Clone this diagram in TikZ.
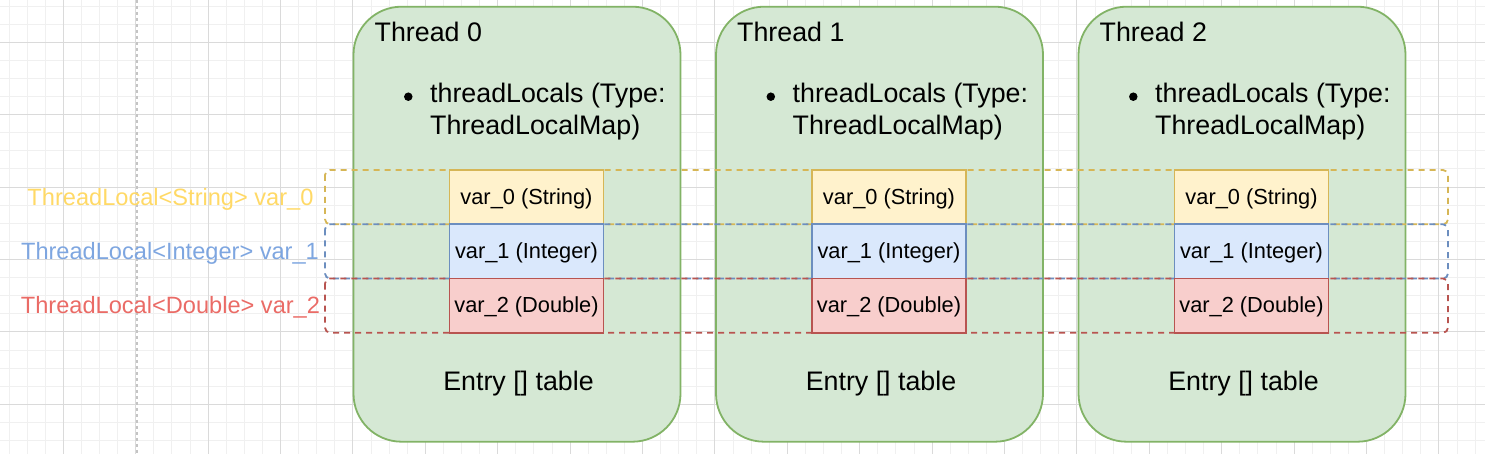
\documentclass[tikz,border=0pt]{standalone}
\usepackage{fontspec}
\setmainfont{Liberation Sans}
\RequirePackage{xcolor}
\definecolor{TLdarkgreen}{HTML}{82B366}
\definecolor{TLlightgreen}{HTML}{D5E8D4}
\definecolor{TLdarkyellow}{HTML}{D6B656}
\definecolor{TLlightyellow}{HTML}{FFF2CC}
\definecolor{TLtextyellow}{HTML}{FFD966}
\definecolor{TLdarkblue}{HTML}{6C8EBF}
\definecolor{TLlightblue}{HTML}{DAE8FC}
\definecolor{TLtextblue}{HTML}{7EA6E0}
\definecolor{TLdarkred}{HTML}{B85450}
\definecolor{TLlightred}{HTML}{F8CECC}
\definecolor{TLtextred}{HTML}{EA6B66}
\definecolor{TLgridmajor}{HTML}{DADADA}
\definecolor{TLgridminor}{HTML}{F0F0F0}
\definecolor{TLpageline}{HTML}{C4C4C4}

\begin{document}
\begin{tikzpicture}[x=1pt,y=-1pt,every node/.style={inner sep=0pt},
  threadbox/.style={draw=TLdarkgreen,fill=TLlightgreen,line width=1.8pt,rounded corners=48pt,minimum width=327pt,minimum height=435pt},
  bigtext/.style={font=\fontsize{26.8}{32}\selectfont,anchor=base west},
  listdot/.style={circle,fill,minimum size=8.5pt},
  varbox/.style={draw,line width=1.8pt,minimum width=154pt,minimum height=54.2pt,text height=17pt,text depth=3pt,font=\fontsize{21.8}{26}\selectfont},
  rowline/.style={dash pattern=on 6pt off 5pt,line width=1.8pt,rounded corners=5pt},
  rowlabel/.style={font=\fontsize{23.6}{28}\selectfont,anchor=base}]

\useasboundingbox (0,0) rectangle (1485,454);

% Grid
\begin{scope}
\clip (0,0) rectangle (1485,454);
\begin{scope}[shift={(-9.1,-30.1)}]
\draw[TLgridminor,line width=1pt] (0,500) grid [step=18.1pt] (1520,0);
\draw[TLgridmajor,line width=1pt] (0,500) grid [step=72.4pt] (1520,0);
\end{scope}
\end{scope}
\draw[TLpageline,line width=1.2pt,dash pattern=on 3pt off 3pt] (137,0) -- (137,454);

% Threads
\node[threadbox] (thread0) at (517,224.2) {};
\node[bigtext] (title0) at (374.5,42) {Thread 0};
\node[listdot] (dot0) at (408.3,96.7) {};
\node[bigtext] (map0a) at (430,102.7) {threadLocals (Type:};
\node[bigtext] (map0b) at (430,135) {ThreadLocalMap)};
\node[bigtext,anchor=base] (table0) at (518.5,390.7) {Entry [] table};

\begin{scope}[xshift=362.5pt]
\node[threadbox] (thread1) at (517,224.2) {};
\node[bigtext] (title1) at (374.5,42) {Thread 1};
\node[listdot] (dot1) at (408.3,96.7) {};
\node[bigtext] (map1a) at (430,102.7) {threadLocals (Type:};
\node[bigtext] (map1b) at (430,135) {ThreadLocalMap)};
\node[bigtext,anchor=base] (table1) at (518.5,390.7) {Entry [] table};
\end{scope}

\begin{scope}[xshift=725pt]
\node[threadbox] (thread2) at (517,224.2) {};
\node[bigtext] (title2) at (374.5,42) {Thread 2};
\node[listdot] (dot2) at (408.3,96.7) {};
\node[bigtext] (map2a) at (430,102.7) {threadLocals (Type:};
\node[bigtext] (map2b) at (430,135) {ThreadLocalMap)};
\node[bigtext,anchor=base] (table2) at (518.5,390.7) {Entry [] table};
\end{scope}

% ThreadLocal rows
\draw[rowline,TLdarkyellow] (325,170) rectangle (1448,224.3);
\draw[rowline,TLdarkblue] (325,224.3) rectangle (1448,278.5);
\draw[rowline,TLdarkred] (325,278.5) rectangle (1448,332.7);

\node[rowlabel,text=TLtextyellow] (label0) at (170.5,205.5) {ThreadLocal<String> var\_0};
\node[rowlabel,text=TLtextblue] (label1) at (170,259.5) {ThreadLocal<Integer> var\_1};
\node[rowlabel,text=TLtextred] (label2) at (170.5,313.5) {ThreadLocal<Double> var\_2};

% Entries
\node[varbox,draw=TLdarkyellow,fill=TLlightyellow] (var00) at (526.5,197.2) {var\_0 (String)};
\node[varbox,draw=TLdarkblue,fill=TLlightblue] (var01) at (526.5,251.4) {var\_1 (Integer)};
\node[varbox,draw=TLdarkred,fill=TLlightred] (var02) at (526.5,305.6) {var\_2 (Double)};

\begin{scope}[xshift=362.5pt]
\node[varbox,draw=TLdarkyellow,fill=TLlightyellow] (var10) at (526.5,197.2) {var\_0 (String)};
\node[varbox,draw=TLdarkblue,fill=TLlightblue] (var11) at (526.5,251.4) {var\_1 (Integer)};
\node[varbox,draw=TLdarkred,fill=TLlightred] (var12) at (526.5,305.6) {var\_2 (Double)};
\end{scope}

\begin{scope}[xshift=725pt]
\node[varbox,draw=TLdarkyellow,fill=TLlightyellow] (var20) at (526.5,197.2) {var\_0 (String)};
\node[varbox,draw=TLdarkblue,fill=TLlightblue] (var21) at (526.5,251.4) {var\_1 (Integer)};
\node[varbox,draw=TLdarkred,fill=TLlightred] (var22) at (526.5,305.6) {var\_2 (Double)};
\end{scope}

\end{tikzpicture}
\end{document}
